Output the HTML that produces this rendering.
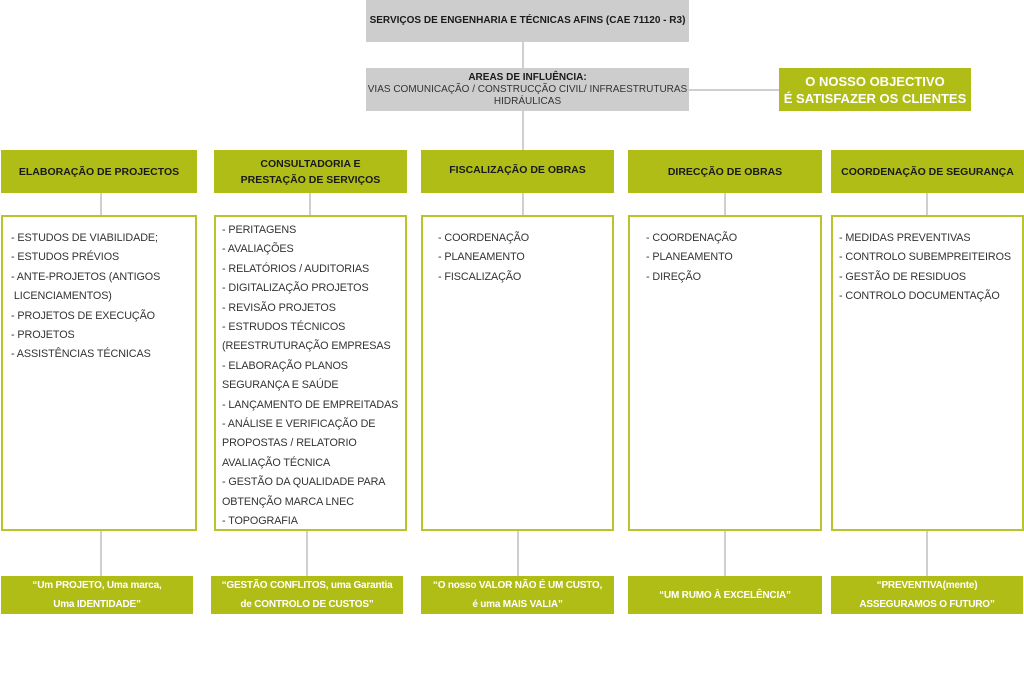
<!DOCTYPE html>
<html><head><meta charset="utf-8"><style>
*{margin:0;padding:0;box-sizing:border-box}
body{width:1024px;height:695px;background:#fff;position:relative;overflow:hidden;font-family:"Liberation Sans",sans-serif;color:#222}
.a{position:absolute}
.gray{background:#cdcdcd;text-align:center;font-size:10px}
.g{background:#b1bd17;display:flex;align-items:center;justify-content:center;text-align:center;font-weight:bold;font-size:10.5px;line-height:16px;color:#1a1a1a}
.q{background:#b1bd17;display:flex;align-items:center;justify-content:center;text-align:center;font-weight:bold;font-size:10px;line-height:19px;color:#fff;letter-spacing:-0.2px}
.c{border:2px solid #b8c42a;background:#fff;font-size:10.8px;line-height:19.4px;letter-spacing:-0.1px;color:#333}
.v{position:absolute;width:2px;background:#cfcfcf}
</style></head><body>
<div class="v" style="left:522px;top:42px;height:108px"></div>
<div class="a" style="left:689px;top:89px;width:90px;height:2px;background:#cfcfcf"></div>
<div class="a gray" style="left:366px;top:0;width:323px;height:42px;line-height:42px;font-weight:bold;color:#1a1a1a">SERVIÇOS DE ENGENHARIA E TÉCNICAS AFINS (CAE 71120 - R3)</div>
<div class="a gray" style="left:366px;top:68px;width:323px;height:43px;padding-top:4px;line-height:12px;color:#333"><b style="color:#1a1a1a">AREAS DE INFLUÊNCIA:</b><br>VIAS COMUNICAÇÃO / CONSTRUCÇÃO CIVIL/ INFRAESTRUTURAS<br>HIDRÁULICAS</div>
<div class="a g" style="left:779px;top:68px;width:192px;height:43px;color:#fff;font-size:13px;line-height:17px">O NOSSO OBJECTIVO<br>É SATISFAZER OS CLIENTES</div>

<div class="v" style="left:100px;top:193px;height:22px"></div>
<div class="v" style="left:309px;top:193px;height:22px"></div>
<div class="v" style="left:724px;top:193px;height:22px"></div>
<div class="v" style="left:926px;top:193px;height:22px"></div>
<div class="v" style="left:522px;top:193px;height:22px"></div>
<div class="v" style="left:100px;top:530px;height:46px"></div>
<div class="v" style="left:306px;top:530px;height:46px"></div>
<div class="v" style="left:517px;top:530px;height:46px"></div>
<div class="v" style="left:724px;top:530px;height:46px"></div>
<div class="v" style="left:926px;top:530px;height:46px"></div>

<div class="a g" style="left:1px;top:150px;width:196px;height:43px">ELABORAÇÃO DE PROJECTOS</div>
<div class="a g" style="left:214px;top:150px;width:193px;height:43px">CONSULTADORIA E<br>PRESTAÇÃO DE SERVIÇOS</div>
<div class="a g" style="left:421px;top:150px;width:193px;height:43px;padding-bottom:4px">FISCALIZAÇÃO DE OBRAS</div>
<div class="a g" style="left:628px;top:150px;width:194px;height:43px">DIRECÇÃO DE OBRAS</div>
<div class="a g" style="left:831px;top:150px;width:193px;height:43px">COORDENAÇÃO DE SEGURANÇA</div>

<div class="a c" style="left:1px;top:215px;width:196px;height:316px;padding:12px 0 0 8px">- ESTUDOS DE VIABILIDADE;<br>- ESTUDOS PRÉVIOS<br>- ANTE-PROJETOS (ANTIGOS<br>&nbsp;LICENCIAMENTOS)<br>- PROJETOS DE EXECUÇÃO<br>- PROJETOS<br>- ASSISTÊNCIAS TÉCNICAS</div>
<div class="a c" style="left:214px;top:215px;width:193px;height:316px;padding:4px 0 0 6px">- PERITAGENS<br>- AVALIAÇÕES<br>- RELATÓRIOS / AUDITORIAS<br>- DIGITALIZAÇÃO PROJETOS<br>- REVISÃO PROJETOS<br>- ESTRUDOS TÉCNICOS<br>(REESTRUTURAÇÃO EMPRESAS<br>- ELABORAÇÃO PLANOS<br>SEGURANÇA E SAÚDE<br>- LANÇAMENTO DE EMPREITADAS<br>- ANÁLISE E VERIFICAÇÃO DE<br>PROPOSTAS / RELATORIO<br>AVALIAÇÃO TÉCNICA<br>- GESTÃO DA QUALIDADE PARA<br>OBTENÇÃO MARCA LNEC<br>- TOPOGRAFIA</div>
<div class="a c" style="left:421px;top:215px;width:193px;height:316px;padding:12px 0 0 15px">- COORDENAÇÃO<br>- PLANEAMENTO<br>- FISCALIZAÇÃO</div>
<div class="a c" style="left:628px;top:215px;width:194px;height:316px;padding:12px 0 0 16px">- COORDENAÇÃO<br>- PLANEAMENTO<br>- DIREÇÃO</div>
<div class="a c" style="left:831px;top:215px;width:193px;height:316px;padding:12px 0 0 6px">- MEDIDAS PREVENTIVAS<br>- CONTROLO SUBEMPREITEIROS<br>- GESTÃO DE RESIDUOS<br>- CONTROLO DOCUMENTAÇÃO</div>

<div class="a q" style="left:1px;top:576px;width:192px;height:38px">“Um PROJETO, Uma marca,<br>Uma IDENTIDADE”</div>
<div class="a q" style="left:211px;top:576px;width:192px;height:38px">“GESTÃO CONFLITOS, uma Garantia<br>de CONTROLO DE CUSTOS”</div>
<div class="a q" style="left:421px;top:576px;width:193px;height:38px">“O nosso VALOR NÃO É UM CUSTO,<br>é uma MAIS VALIA”</div>
<div class="a q" style="left:628px;top:576px;width:194px;height:38px">“UM RUMO À EXCELÊNCIA”</div>
<div class="a q" style="left:831px;top:576px;width:192px;height:38px">“PREVENTIVA(mente)<br>ASSEGURAMOS O FUTURO”</div>
</body></html>
